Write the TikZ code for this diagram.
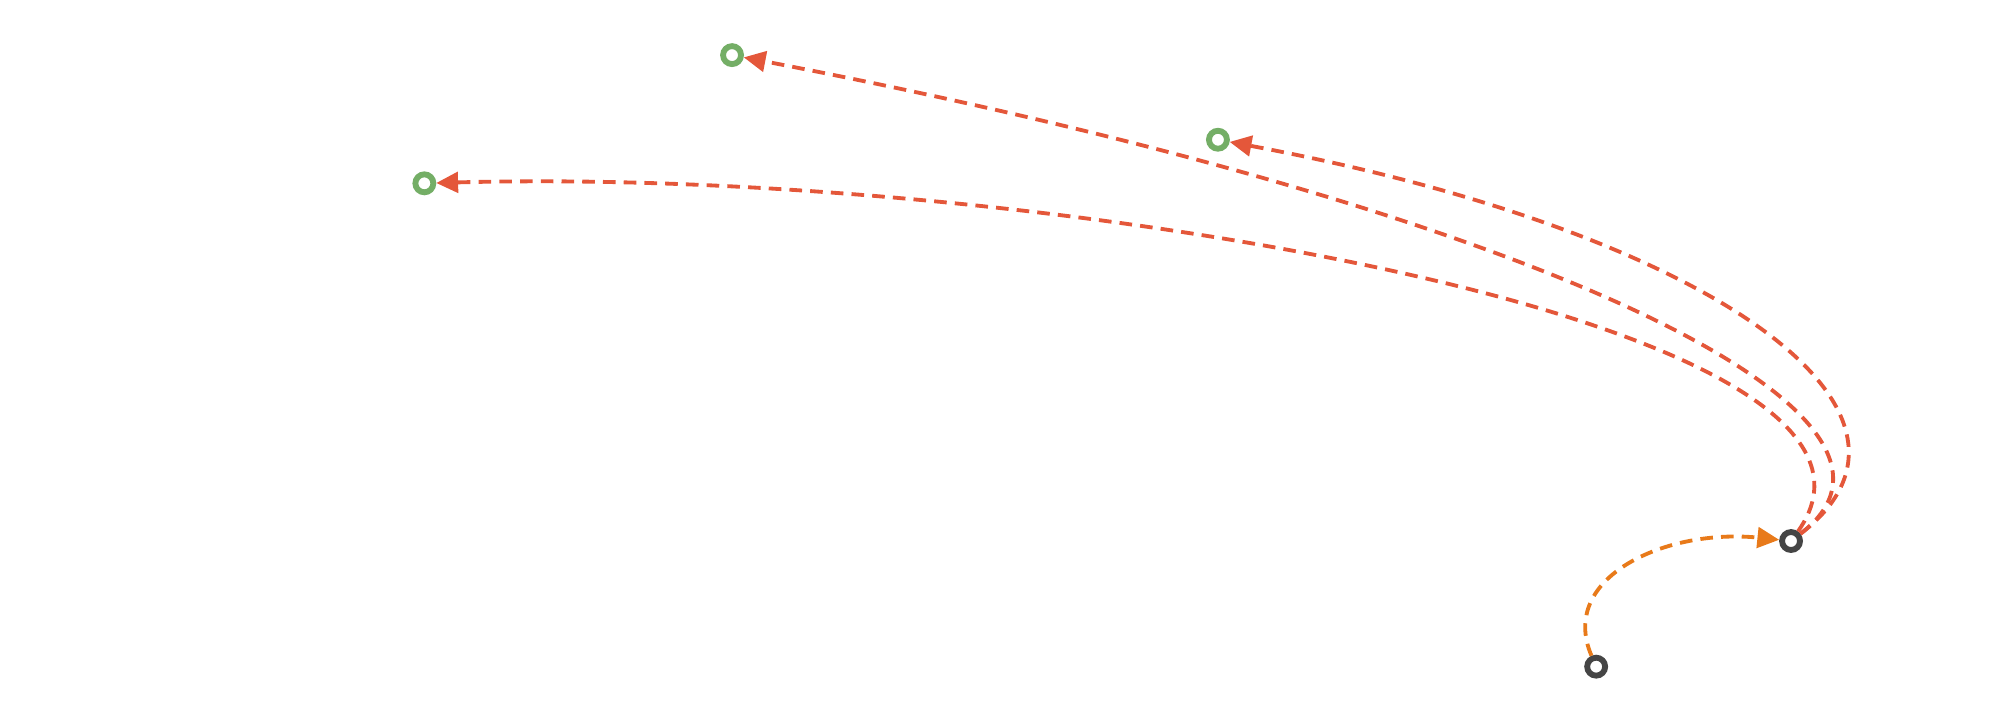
\documentclass[tikz,border=0pt]{standalone}
\usetikzlibrary{arrows.meta}
\definecolor{ptgreen}{HTML}{74AE66}
\definecolor{ptdark}{HTML}{454545}
\definecolor{lnred}{HTML}{E4573A}
\definecolor{lnorange}{HTML}{E87A1A}
\begin{document}
\begin{tikzpicture}[
		x=0.01cm, y=-0.01cm,
		target/.style={draw=ptgreen, circle, line width=1.3pt, fill=white, inner sep=0pt, minimum size=0.14cm},
		origin/.style={draw=ptdark, circle, line width=1.3pt, fill=white, inner sep=0pt, minimum size=0.14cm},
		move/.style={dash pattern=on 2.8pt off 1.8pt, line width=0.85pt, -{Triangle[length=0.17cm, width=0.16cm]}},
		]
		\useasboundingbox (0,0) rectangle (1560,549);
		% Points
		\node[target] (pa) at (571,43) {};
		\node[target] (pb) at (950,109) {};
		\node[target] (pc) at (331,143) {};
		\node[origin] (pd) at (1397,422) {};
		\node[origin] (pe) at (1245,520) {};
		% Moves
		\draw[move, lnorange] (pe) .. controls (1215,450) and (1300,412) .. (pd);
		\draw[move, lnred] (pd) .. controls (1530,320) and (1180,160) .. (pa);
		\draw[move, lnred] (pd) .. controls (1530,320) and (1330,180) .. (pb);
		\draw[move, lnred] (pd) .. controls (1520,250) and (800,130) .. (pc);
\end{tikzpicture}
\end{document}
